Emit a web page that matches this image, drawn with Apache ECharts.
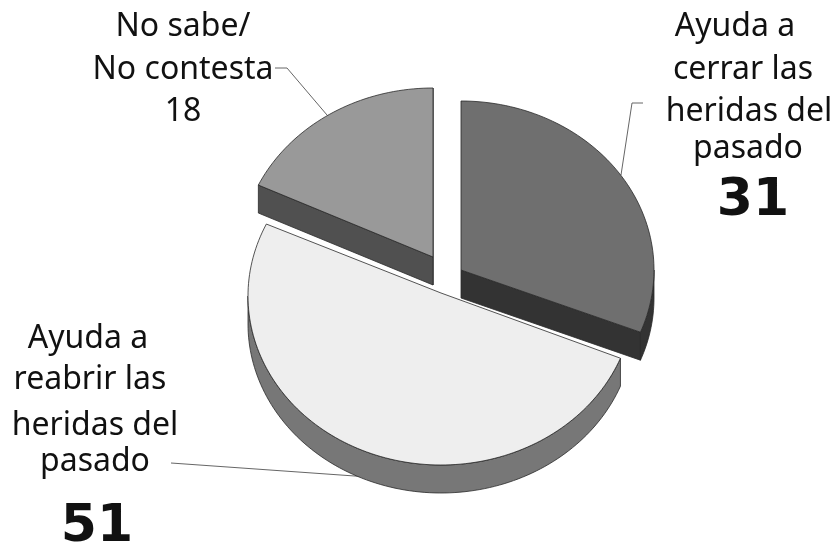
<!DOCTYPE html>
<html>
<head>
<meta charset="utf-8">
<style>html,body{margin:0;padding:0;background:#fff}#c{width:835px;height:546px}</style>
<script src="https://cdn.jsdelivr.net/npm/echarts@6/dist/echarts.min.js"></script>
</head>
<body>
<div id="c"></div>
<script>
// Data
const categories = ['Ayuda a cerrar las heridas del pasado', 'Ayuda a reabrir las heridas del pasado', 'No sabe/ No contesta'];
const values = [31, 51, 18];
const labelLines = [
  ['Ayuda a', 'cerrar las', 'heridas del', 'pasado'],
  ['Ayuda a', 'reabrir las', 'heridas del', 'pasado'],
  ['No sabe/', 'No contesta']
];

// Styling and layout
const RX = 193, RY = 169, DEPTH = 28;
const centres = [[461, 270], [441, 296], [433, 257]];
const apexLift = [0, 3, 0];
const faceColors = ['#6f6f6f', '#eeeeee', '#999999'];
const wallColors = ['#333333', '#777777', '#505050'];
const labelX = [[735, 743, 749, 748, 753], [88, 90, 95, 95, 97], [183, 183, 183]];
const labelBase = [[35, 78, 120, 157, 215], [347, 388, 434, 470, 541], [35, 78, 120]];
const boldValue = [true, true, false];
const leaders = [
  [[643, 103], [632, 103], [621, 175]],
  [[171, 463], [397, 479]],
  [[275, 68], [287, 68], [327, 115]]
];
const total = values.reduce((a, b) => a + b, 0);
const stroke = { stroke: '#2a2a2a', lineWidth: 0.8, lineJoin: 'round' };

function pt(c, deg, dz) { // deg clockwise from top of the ellipse
  const t = deg * Math.PI / 180;
  return [c[0] + RX * Math.sin(t), c[1] - RY * Math.cos(t) + (dz || 0)];
}
function arc(c, a0, a1, dz) {
  const n = Math.max(2, Math.ceil(Math.abs(a1 - a0) / 1.5)), out = [];
  for (let i = 0; i <= n; i++) out.push(pt(c, a0 + (a1 - a0) * i / n, dz));
  return out;
}
function renderSlice(params, api) {
  const i = params.dataIndex;
  let before = 0;
  for (let k = 0; k < i; k++) before += values[k];
  const a0 = before / total * 360, a1 = (before + api.value(0)) / total * 360;
  const c = centres[i], bottom = [c[0], c[1] + DEPTH];
  const children = [];
  const addPoly = (pts, fill) => children.push({
    type: 'polygon', shape: { points: pts }, style: Object.assign({ fill: fill }, stroke)
  });
  // radial walls facing the viewer
  if (i !== 1) addPoly([c, pt(c, a1), pt(c, a1, DEPTH), bottom], wallColors[i]);
  if (i === 2) addPoly([c, pt(c, a0), pt(c, a0, DEPTH), bottom], wallColors[i]);
  // outer wall for the front half of the rim
  const w0 = Math.max(a0, 90), w1 = Math.min(a1, 270);
  if (w1 > w0) addPoly(arc(c, w0, w1, 0).concat(arc(c, w1, w0, DEPTH)), wallColors[i]);
  addPoly([[c[0], c[1] - apexLift[i]]].concat(arc(c, a0, a1, 0)), faceColors[i]);
  return { type: 'group', children: children };
}

const textEls = [];
labelLines.forEach((lines, i) => {
  const rows = lines.concat(String(values[i]));
  rows.forEach((t, j) => {
    const isVal = j === rows.length - 1 && boldValue[i];
    textEls.push({
      type: 'text', x: labelX[i][j],
      y: labelBase[i][j] + (isVal ? 12 : 8),
      style: {
        text: t, align: 'center', verticalAlign: 'bottom',
        font: isVal ? 'bold 52px "DejaVu Sans"' : '32px "Noto Sans"',
        fill: '#111111'
      }
    });
  });
});
const lineEls = leaders.map(p => ({
  type: 'polyline', shape: { points: p }, z: 1,
  style: { stroke: '#666666', lineWidth: 1, fill: 'none' }
}));

const chart = echarts.init(document.getElementById('c'), null, { renderer: 'canvas' });
chart.setOption({
  animation: false,
  backgroundColor: '#ffffff',
  graphic: lineEls.concat(textEls),
  series: [{
    type: 'custom',
    coordinateSystem: 'none',
    z: 2,
    data: values.map((v, i) => ({ name: categories[i], value: [v] })),
    renderItem: renderSlice
  }]
});
</script>
</body>
</html>
